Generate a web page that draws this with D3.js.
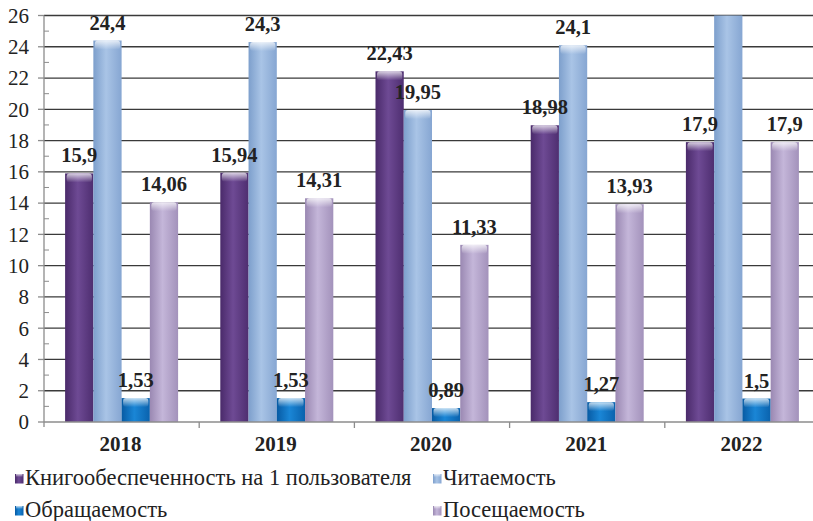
<!DOCTYPE html>
<html><head><meta charset="utf-8">
<script src="https://cdn.jsdelivr.net/npm/d3@7"></script>
<style>body{margin:0;background:#fff}svg{display:block}</style>
</head><body>
<svg id="c" width="813" height="521"></svg>
<script>
const years = ["2018","2019","2020","2021","2022"];
const seriesNames = ["Книгообеспеченность на 1 пользователя","Читаемость","Обращаемость","Посещаемость"];
const knigoobesp = [15.9, 15.94, 22.43, 18.98, 17.9];
const chitaemost = [24.4, 24.3, 19.95, 24.1, 28.5];
const obrashchaemost = [1.53, 1.53, 0.89, 1.27, 1.5];
const poseshchaemost = [14.06, 14.31, 11.33, 13.93, 17.9];
const labels1 = ["15,9","15,94","22,43","18,98","17,9"];
const labels2 = ["24,4","24,3","19,95","24,1",""];
const labels3 = ["1,53","1,53","0,89","1,27","1,5"];
const labels4 = ["14,06","14,31","11,33","13,93","17,9"];
const yTicks = [0,2,4,6,8,10,12,14,16,18,20,22,24,26];

const FONT = "'Liberation Serif'";
const series = [
  {name: seriesNames[0], values: knigoobesp, labels: labels1, c: ["#4a2a6a","#6e4a94","#4e2e70"]},
  {name: seriesNames[1], values: chitaemost, labels: labels2, c: ["#7d9fcc","#a9c4e6","#86a6d2"]},
  {name: seriesNames[2], values: obrashchaemost, labels: labels3, c: ["#075aa3","#1a86d6","#0a62ad"]},
  {name: seriesNames[3], values: poseshchaemost, labels: labels4, c: ["#9a88b2","#c4b6d9","#a392bb"]}
];

const svg = d3.select("#c");
const pL = 44, pR = 820, pT = 15.5, pB = 422;
const x = d3.scaleBand().domain(years).range([pL, pR]);
const x1 = d3.scaleBand().domain(d3.range(4)).range([0, 113]);
const y = d3.scaleLinear().domain([0, 26]).range([pB, pT]);

const defs = svg.append("defs");
series.forEach((s, i) => {
  const g = defs.append("linearGradient").attr("id", "g" + i).attr("x1", 0).attr("x2", 1).attr("y1", 0).attr("y2", 0);
  g.append("stop").attr("offset", "0%").attr("stop-color", s.c[0]);
  g.append("stop").attr("offset", "45%").attr("stop-color", s.c[1]);
  g.append("stop").attr("offset", "100%").attr("stop-color", s.c[2]);
  const h = defs.append("linearGradient").attr("id", "h" + i).attr("x1", 0).attr("x2", 0).attr("y1", 0).attr("y2", 1);
  h.append("stop").attr("offset", "0%").attr("stop-color", "#fff").attr("stop-opacity", 0.75);
  h.append("stop").attr("offset", "100%").attr("stop-color", "#fff").attr("stop-opacity", 0);
});
defs.append("clipPath").attr("id", "plotclip").append("rect")
  .attr("x", pL).attr("y", pT).attr("width", 813 - pL).attr("height", pB - pT);

// gridlines
svg.append("g").selectAll("line").data(yTicks.filter(d => d > 0)).join("line")
  .attr("x1", pL).attr("x2", 813).attr("y1", d => y(d)).attr("y2", d => y(d))
  .attr("stroke", "#3a3a3a").attr("stroke-width", 1.3);

// bars
const plot = svg.append("g").attr("clip-path", "url(#plotclip)");
const off = (x.bandwidth() - 113) / 2;
series.forEach((s, i) => {
  const gs = plot.append("g");
  years.forEach((yr, j) => {
    const bx = x(yr) + off + x1(i), bw = x1.bandwidth();
    const yt = y(s.values[j]);
    gs.append("rect").attr("x", bx).attr("y", yt).attr("width", bw).attr("height", pB - yt)
      .attr("fill", "url(#g" + i + ")");
    gs.append("rect").attr("x", bx + 1.5).attr("y", yt).attr("width", bw - 3).attr("height", 9)
      .attr("rx", 3).attr("fill", "url(#h" + i + ")");
  });
});

// axes
const yAxis = svg.append("g");
yAxis.append("line").attr("x1", pL).attr("x2", pL).attr("y1", pT).attr("y2", pB + 5).attr("stroke", "#8c8c8c").attr("stroke-width", 1.3);
yAxis.selectAll(".maj").data(yTicks).join("line").attr("class", "maj")
  .attr("x1", pL - 6).attr("x2", pL).attr("y1", d => y(d)).attr("y2", d => y(d)).attr("stroke", "#8c8c8c").attr("stroke-width", 1.3);
yAxis.selectAll(".min").data(d3.range(1, 26, 2)).join("line").attr("class", "min")
  .attr("x1", pL).attr("x2", pL + 5).attr("y1", d => y(d)).attr("y2", d => y(d)).attr("stroke", "#8c8c8c").attr("stroke-width", 1);
yAxis.selectAll("text").data(yTicks).join("text")
  .attr("x", 29).attr("y", d => y(d)).attr("dy", "0.35em").attr("text-anchor", "end")
  .style("font-family", FONT).style("font-size", "21px").attr("fill", "#222").text(d => d);

const xAxis = svg.append("g");
xAxis.append("line").attr("x1", pL).attr("x2", 813).attr("y1", pB).attr("y2", pB).attr("stroke", "#8c8c8c").attr("stroke-width", 1.3);
xAxis.selectAll(".tk").data(years.slice(1)).join("line").attr("class", "tk")
  .attr("x1", d => x(d)).attr("x2", d => x(d)).attr("y1", pB).attr("y2", pB + 6).attr("stroke", "#8c8c8c").attr("stroke-width", 1.3);
xAxis.selectAll("text").data(years).join("text")
  .attr("x", d => x(d) + x.bandwidth() / 2 - 1).attr("y", 451).attr("text-anchor", "middle")
  .style("font-family", FONT).style("font-weight", "bold").style("font-size", "21px").attr("fill", "#222").text(d => d);

// value labels
series.forEach((s, i) => {
  years.forEach((yr, j) => {
    if (!s.labels[j]) return;
    svg.append("text").attr("x", x(yr) + off + x1(i) + x1.bandwidth() / 2)
      .attr("y", y(s.values[j]) - 11).attr("text-anchor", "middle")
      .style("font-family", FONT).style("font-weight", "bold").style("font-size", "20.5px")
      .attr("fill", "#222").text(s.labels[j]);
  });
});

// legend
const legPos = [[15, 485], [433, 485], [15, 517], [433, 517]];
series.forEach((s, i) => {
  const [lx, ly] = legPos[i];
  svg.append("rect").attr("x", lx).attr("y", ly - 11).attr("width", 8.5).attr("height", 9.5).attr("fill", "url(#g" + i + ")");
  svg.append("rect").attr("x", lx + 1).attr("y", ly - 11).attr("width", 6.5).attr("height", 3).attr("fill", "url(#h" + i + ")");
  svg.append("text").attr("x", lx + 10).attr("y", ly)
    .style("font-family", FONT).style("font-size", "22.5px")
    .attr("fill", "#222").text(s.name);
});
</script>
</body></html>
